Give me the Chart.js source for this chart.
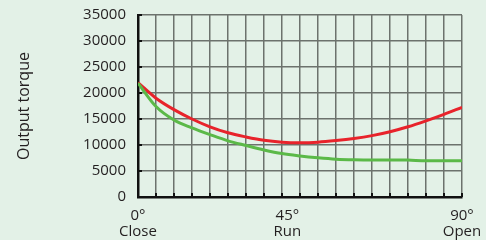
<!DOCTYPE html>
<html>
<head>
<meta charset="utf-8">
<script src="https://cdn.jsdelivr.net/npm/chart.js@4/dist/chart.umd.min.js"></script>
<style>
  html, body { margin: 0; padding: 0; background: #e3f1e7; }
  #wrap { width: 486px; height: 240px; position: relative; }
</style>
</head>
<body>
<div id="wrap"><canvas id="c" width="486" height="240"></canvas></div>
<script>
// ---- data ----
const angles = [0, 5, 10, 15, 20, 25, 30, 35, 40, 45, 50, 55, 60, 65, 70, 75, 80, 85, 90];
const redTorque = [22000, 19000, 16800, 15000, 13500, 12350, 11550, 10900, 10550, 10450, 10550, 10850, 11250, 11800, 12550, 13500, 14650, 15900, 17250];
const greenTorque = [21900, 17400, 14800, 13300, 12000, 10800, 9900, 9050, 8350, 7900, 7550, 7280, 7150, 7100, 7130, 7100, 6950, 6950, 6950];
const yTicks = [0, 5000, 10000, 15000, 20000, 25000, 30000, 35000];
const xLabelValues = [0, 41.5, 90];
const xLabelTexts = [['0°', 'Close'], ['45°', 'Run'], ['90°', 'Open']];
const yTitle = 'Output torque';

const FONT = "'Open Sans', 'DejaVu Sans', sans-serif";
const TEXT = '#231f20';
const GRID = '#6c726d';

const innerTicks = {
  id: 'innerTicks',
  afterDatasetsDraw(chart) {
    const { ctx, chartArea, scales } = chart;
    ctx.save();
    ctx.strokeStyle = '#111';
    ctx.lineWidth = 2;
    ctx.beginPath();
    angles.forEach(a => {
      const x = scales.x.getPixelForValue(a);
      ctx.moveTo(x, chartArea.bottom);
      ctx.lineTo(x, chartArea.bottom - 4);
    });
    yTicks.forEach(v => {
      const y = scales.y.getPixelForValue(v);
      ctx.moveTo(chartArea.left, y);
      ctx.lineTo(chartArea.left + 4, y);
    });
    ctx.stroke();
    ctx.restore();
  }
};

new Chart(document.getElementById('c'), {
  type: 'line',
  data: {
    datasets: [
      {
        data: angles.map((a, i) => ({ x: a, y: greenTorque[i] })),
        borderColor: '#5bb948', borderWidth: 3, pointRadius: 0,
        cubicInterpolationMode: 'monotone', fill: false
      },
      {
        data: angles.map((a, i) => ({ x: a, y: redTorque[i] })),
        borderColor: '#e8232b', borderWidth: 3, pointRadius: 0,
        cubicInterpolationMode: 'monotone', fill: false
      }
    ]
  },
  plugins: [innerTicks],
  options: {
    responsive: false,
    animation: false,
    devicePixelRatio: 1,
    layout: { padding: { top: 15, right: 24, left: 0, bottom: 0 } },
    plugins: { legend: { display: false }, tooltip: { enabled: false } },
    scales: {
      x: {
        type: 'linear', min: 0, max: 90,
        afterBuildTicks(scale) {
          const vals = angles.concat(xLabelValues.filter(v => !angles.includes(v)));
          scale.ticks = vals.sort((a, b) => a - b).map(v => ({ value: v }));
        },
        afterFit(scale) {
          scale.height = 43;
          scale.paddingLeft = 0; scale.paddingRight = 0;
        },
        ticks: {
          autoSkip: false, maxRotation: 0, padding: 10,
          color: TEXT, font: { family: FONT, size: 15, lineHeight: 1.12 },
          callback(v) {
            const i = xLabelValues.indexOf(v);
            return i >= 0 ? xLabelTexts[i] : '';
          }
        },
        grid: {
          drawTicks: false, lineWidth: 1.5,
          color(ctx) {
            const v = ctx.tick && ctx.tick.value;
            return angles.includes(v) ? GRID : 'rgba(0,0,0,0)';
          }
        },
        border: { display: true, color: '#111', width: 2.5 }
      },
      y: {
        min: 0, max: 35000,
        afterBuildTicks(scale) { scale.ticks = yTicks.map(v => ({ value: v })); },
        afterFit(scale) {
          scale.width = 138;
          scale.paddingTop = 0; scale.paddingBottom = 0;
        },
        ticks: {
          padding: 12, color: TEXT, font: { family: FONT, size: 15 },
          callback: v => String(v)
        },
        grid: { drawTicks: false, color: GRID, lineWidth: 1.5 },
        border: { display: true, color: '#111', width: 2.5 },
        title: {
          display: true, text: yTitle, color: TEXT,
          font: { family: FONT, size: 16 }, padding: { top: 15, bottom: 0 }
        }
      }
    }
  }
});
</script>
</body>
</html>
